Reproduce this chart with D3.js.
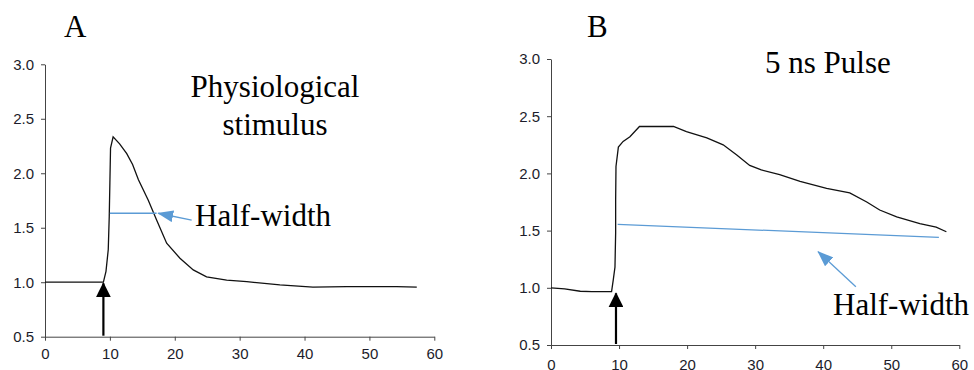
<!DOCTYPE html>
<html>
<head>
<meta charset="utf-8">
<script src="https://cdn.jsdelivr.net/npm/d3@7"></script>
<style>
  body { margin: 0; background: #fff; }
  svg { display: block; }
</style>
</head>
<body>
<figure id="chart" style="margin:0"></figure>
<script>
// tick labels shared by both panels
const xTicks = [0, 10, 20, 30, 40, 50, 60];
const yTicks = [0.5, 1.0, 1.5, 2.0, 2.5, 3.0];

// panel A: physiological stimulus trace
const timeA = [0, 5, 9.0, 9.4, 9.75, 9.9, 10.0, 10.1, 10.5, 11.5, 12.6, 13.5, 14.4, 15.9, 17.2, 18.75,
  20.8, 22.85, 24.9, 28, 31.1, 36.2, 41.3, 46.5, 54.2, 57.3];
const valueA = [1.0, 1.0, 1.0, 1.1, 1.3, 1.6, 1.91, 2.23, 2.335, 2.27, 2.18, 2.08, 1.94, 1.755, 1.572, 1.358,
  1.22, 1.113, 1.05, 1.02, 1.005, 0.975, 0.955, 0.96, 0.96, 0.955];
const halfTimeA = [10.0, 17.2];
const halfValueA = [1.633, 1.633];

// panel B: 5 ns pulse trace
const timeB = [0, 2, 4.3, 6, 8.9, 9.15, 9.4, 9.5, 9.5, 9.55, 9.9, 10.6, 11.6, 13.0, 18.0, 19.9, 22.9, 25.3,
  27.3, 29.2, 30.9, 33.6, 36.6, 40.5, 43.9, 46.4, 48.3, 50.8, 54.2, 56.6, 58.1];
const valueB = [1.0, 0.99, 0.97, 0.966, 0.966, 1.07, 1.18, 1.48, 1.77, 2.06, 2.23, 2.28, 2.32, 2.41, 2.41, 2.365, 2.31, 2.25,
  2.16, 2.07, 2.03, 1.99, 1.93, 1.87, 1.83, 1.75, 1.68, 1.62, 1.56, 1.53, 1.49];
const halfTimeB = [9.8, 57.0];
const halfValueB = [1.555, 1.44];

const width = 974, height = 370;
const blue = "#5b9bd5";
const tickFont = "'Liberation Sans', Arial, sans-serif";
const textFont = "'Liberation Serif', 'Times New Roman', serif";

const svg = d3.select("#chart").append("svg")
  .attr("width", width)
  .attr("height", height);

const defs = svg.append("defs");
function marker(id, color, len, half) {
  defs.append("marker")
    .attr("id", id)
    .attr("markerUnits", "userSpaceOnUse")
    .attr("viewBox", `0 ${-half} ${len} ${half * 2}`)
    .attr("refX", len - 1)
    .attr("refY", 0)
    .attr("markerWidth", len)
    .attr("markerHeight", half * 2)
    .attr("orient", "auto")
    .append("path")
    .attr("d", `M0,${-half}L${len},0L0,${half}Z`)
    .attr("fill", color);
}
marker("headBlack", "#000", 15, 7.5);
marker("headBlue", blue, 16, 6);

function drawPanel(p) {
  const x = d3.scaleLinear().domain([0, 60]).range(p.xRange);
  const y = d3.scaleLinear().domain([0.5, 3]).range(p.yRange);
  const g = svg.append("g");

  const xAxis = g.append("g")
    .attr("transform", `translate(0,${p.yRange[0]})`)
    .call(d3.axisBottom(x).tickValues(xTicks).tickSize(4).tickSizeOuter(0).tickPadding(p.xPad));
  const yAxis = g.append("g")
    .attr("transform", `translate(${p.xRange[0]},0)`)
    .call(d3.axisLeft(y).tickValues(yTicks).tickFormat(d3.format(".1f")).tickSize(4).tickSizeOuter(0).tickPadding(7));
  [xAxis, yAxis].forEach(a => {
    a.selectAll("path, line").attr("stroke", "#444");
    a.selectAll("text").attr("fill", "#1c1c2a")
      .style("font-family", tickFont).style("font-size", "15px");
  });

  const line = d3.line().x(d => x(d[0])).y(d => y(d[1]));

  g.append("path")
    .datum(d3.zip(p.time, p.value))
    .attr("d", line)
    .attr("fill", "none")
    .attr("stroke", "#111")
    .attr("stroke-width", 1.3);

  g.append("path")
    .datum(d3.zip(p.halfTime, p.halfValue))
    .attr("d", line)
    .attr("fill", "none")
    .attr("stroke", blue)
    .attr("stroke-width", 1.3);

  // stimulus arrow
  g.append("line")
    .attr("x1", x(p.stim)).attr("x2", x(p.stim))
    .attr("y1", y(0.5) - 1).attr("y2", y(p.stimTop))
    .attr("stroke", "#000")
    .attr("stroke-width", 2.2)
    .attr("marker-end", "url(#headBlack)");

  // half-width pointer
  g.append("line")
    .attr("x1", x(p.pointer[0][0])).attr("y1", y(p.pointer[0][1]))
    .attr("x2", x(p.pointer[1][0])).attr("y2", y(p.pointer[1][1]))
    .attr("stroke", blue)
    .attr("stroke-width", 1.3)
    .attr("marker-end", "url(#headBlue)");

  p.labels.forEach(l => {
    g.append("text")
      .attr("x", l.x).attr("y", l.y)
      .attr("text-anchor", l.anchor || "start")
      .style("font-family", textFont)
      .style("font-size", "31px")
      .attr("fill", "#000")
      .text(l.text);
  });
}

drawPanel({
  xRange: [45, 434.3], yRange: [336.7, 64.3], xPad: 8,
  time: timeA, value: valueA, halfTime: halfTimeA, halfValue: halfValueA,
  stim: 9.0, stimTop: 0.99,
  pointer: [[22.6, 1.57], [17.45, 1.633]],
  labels: [
    { text: "A", x: 64, y: 37 },
    { text: "Physiological", x: 275, y: 97, anchor: "middle" },
    { text: "stimulus", x: 275, y: 135, anchor: "middle" },
    { text: "Half-width", x: 195, y: 226 }
  ]
});

drawPanel({
  xRange: [551, 959.3], yRange: [345, 59], xPad: 10,
  time: timeB, value: valueB, halfTime: halfTimeB, halfValue: halfValueB,
  stim: 9.55, stimTop: 0.952,
  pointer: [[44.8, 1.01], [39.25, 1.316]],
  labels: [
    { text: "B", x: 587, y: 37 },
    { text: "5 ns Pulse", x: 765, y: 73 },
    { text: "Half-width", x: 833, y: 315 }
  ]
});
</script>
</body>
</html>
